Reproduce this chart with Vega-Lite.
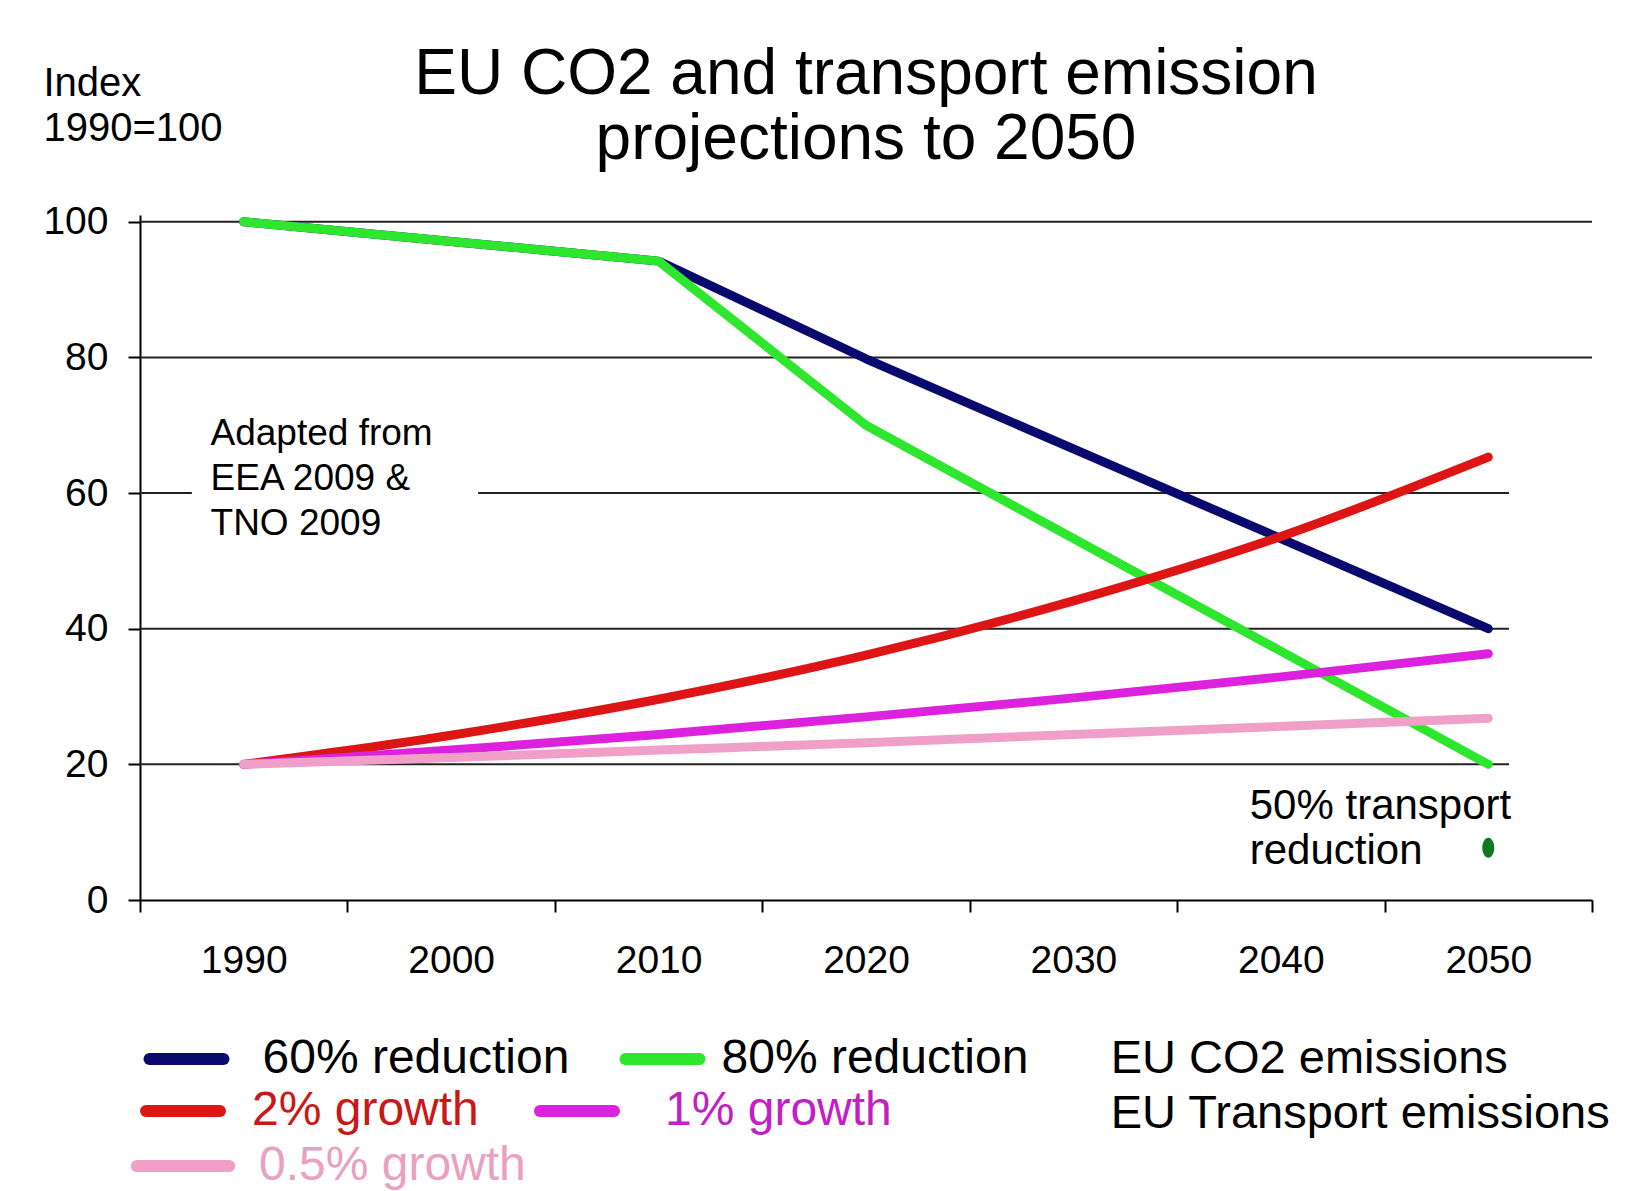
{
  "$schema": "https://vega.github.io/schema/vega-lite/v6.json",
  "width": 1452,
  "height": 685,
  "autosize": {"type": "none"},
  "padding": {"left": 140, "top": 215, "right": 38, "bottom": 291},
  "background": "white",
  "config": {"view": {"stroke": null}, "font": "Liberation Sans"},
  "title": {
    "text": ["EU CO2 and transport emission", "projections to 2050"],
    "fontSize": 64,
    "fontWeight": "normal",
    "font": "Liberation Sans",
    "lineHeight": 65,
    "anchor": "middle",
    "color": "black",
    "offset": -109
  },
  "layer": [
    {
      "data": {"values": [
        {"value": 100, "year": 1985, "year2": 2055},
        {"value": 80, "year": 1985, "year2": 2055},
        {"value": 60, "year": 1985, "year2": 1987.5},
        {"value": 60, "year": 2001.3, "year2": 2051},
        {"value": 40, "year": 1985, "year2": 2051},
        {"value": 20, "year": 1985, "year2": 2051}
      ]},
      "mark": {"type": "rule", "color": "#222222", "strokeWidth": 2},
      "encoding": {
        "x": {
          "field": "year", "type": "quantitative",
          "scale": {"domain": [1985, 2055], "nice": false, "zero": false},
          "axis": {
            "values": [1985, 1990, 1995, 2000, 2005, 2010, 2015, 2020, 2025, 2030, 2035, 2040, 2045, 2050, 2055],
            "format": "d",
            "labelExpr": "datum.value % 10 == 0 ? datum.label : ''",
            "title": null,
            "grid": false,
            "tickSize": 12,
            "tickWidth": 2,
            "tickColor": {"condition": {"test": "datum.value % 10 == 5", "value": "black"}, "value": "transparent"},
            "domainColor": "black",
            "domainWidth": 2,
            "labelFontSize": 39,
            "labelFont": "Liberation Sans",
            "labelColor": "black",
            "labelPadding": 29,
            "labelFlush": false,
            "labelOverlap": false
          }
        },
        "x2": {"field": "year2"},
        "y": {
          "field": "value", "type": "quantitative",
          "scale": {"domain": [0, 101], "nice": false, "zero": false},
          "axis": {
            "values": [0, 20, 40, 60, 80, 100],
            "title": ["Index", "1990=100"],
            "titleAngle": 0,
            "titleAlign": "left",
            "titleBaseline": "alphabetic",
            "titleX": -97,
            "titleY": -120,
            "titleFontSize": 40,
            "titleFontWeight": "normal",
            "titleFont": "Liberation Sans",
            "titleLineHeight": 45,
            "titleColor": "black",
            "grid": false,
            "tickSize": 12,
            "tickWidth": 2,
            "tickColor": "black",
            "domainColor": "black",
            "domainWidth": 2,
            "labelFontSize": 39,
            "labelFont": "Liberation Sans",
            "labelColor": "black",
            "labelPadding": 20
          }
        }
      }
    },
    {
      "data": {"values": [
        {"series": "60% reduction", "year": 1990, "value": 100},
        {"series": "60% reduction", "year": 2000, "value": 97.1},
        {"series": "60% reduction", "year": 2010, "value": 94.2},
        {"series": "60% reduction", "year": 2020, "value": 79.8},
        {"series": "60% reduction", "year": 2030, "value": 66.5},
        {"series": "60% reduction", "year": 2040, "value": 53.3},
        {"series": "60% reduction", "year": 2050, "value": 40},
        {"series": "80% reduction", "year": 1990, "value": 100},
        {"series": "80% reduction", "year": 2000, "value": 97.1},
        {"series": "80% reduction", "year": 2010, "value": 94.2},
        {"series": "80% reduction", "year": 2020, "value": 70},
        {"series": "80% reduction", "year": 2030, "value": 53.3},
        {"series": "80% reduction", "year": 2040, "value": 36.7},
        {"series": "80% reduction", "year": 2050, "value": 20}
      ]},
      "mark": {"type": "line", "strokeWidth": 9, "strokeCap": "round", "strokeJoin": "round", "interpolate": "linear"},
      "encoding": {
        "x": {"field": "year", "type": "quantitative"},
        "y": {"field": "value", "type": "quantitative"},
        "color": {
          "field": "series", "type": "nominal",
          "scale": {
            "domain": ["60% reduction", "80% reduction"],
            "range": ["#0a0a6e", "#2ee62e"]
          },
          "legend": {
            "orient": "none",
            "direction": "horizontal",
            "legendX": 15.5,
            "legendY": 813,
            "padding": 0,
            "columns": 2,
            "title": null,
            "symbolType": "M-1.48,0L1.48,0",
            "symbolSize": 2500,
            "symbolStrokeWidth": 12,
            "labelFontSize": 48,
            "labelFont": "Liberation Sans",
            "labelColor": "black",
            "labelOffset": 45,
            "labelLimit": 0,
            "columnPadding": 32,
            "rowPadding": -3,
            "encode": {
              "labels": {"update": {"dx": {"signal": "datum.label == '80% reduction' ? -17 : 0"}}},
              "symbols": {"update": {"strokeWidth": {"value": 12}, "strokeCap": {"value": "round"}}}
            }
          }
        }
      }
    },
    {
      "data": {"values": [
        {"series": "2% growth", "year": 1990, "value": 20},
        {"series": "2% growth", "year": 2000, "value": 24.3},
        {"series": "2% growth", "year": 2010, "value": 29.6},
        {"series": "2% growth", "year": 2020, "value": 36.1},
        {"series": "2% growth", "year": 2030, "value": 44.1},
        {"series": "2% growth", "year": 2040, "value": 53.6},
        {"series": "2% growth", "year": 2050, "value": 65.3},
        {"series": "1% growth", "year": 1990, "value": 20},
        {"series": "1% growth", "year": 2000, "value": 22.1},
        {"series": "1% growth", "year": 2010, "value": 24.4},
        {"series": "1% growth", "year": 2020, "value": 27.0},
        {"series": "1% growth", "year": 2030, "value": 29.8},
        {"series": "1% growth", "year": 2040, "value": 32.9},
        {"series": "1% growth", "year": 2050, "value": 36.3},
        {"series": "0.5% growth", "year": 1990, "value": 20},
        {"series": "0.5% growth", "year": 2000, "value": 21.0},
        {"series": "0.5% growth", "year": 2010, "value": 22.1},
        {"series": "0.5% growth", "year": 2020, "value": 23.2},
        {"series": "0.5% growth", "year": 2030, "value": 24.4},
        {"series": "0.5% growth", "year": 2040, "value": 25.6},
        {"series": "0.5% growth", "year": 2050, "value": 26.8}
      ]},
      "mark": {"type": "line", "strokeWidth": 9, "strokeCap": "round", "strokeJoin": "round", "interpolate": "monotone"},
      "encoding": {
        "x": {"field": "year", "type": "quantitative"},
        "y": {"field": "value", "type": "quantitative"},
        "stroke": {
          "field": "series", "type": "nominal",
          "scale": {
            "domain": ["2% growth", "1% growth", "0.5% growth"],
            "range": ["#dd1515", "#dd22dd", "#f0a0c8"]
          },
          "legend": {
            "orient": "none",
            "direction": "horizontal",
            "legendX": 12,
            "legendY": 865,
            "padding": 0,
            "columns": 2,
            "title": null,
            "symbolType": "M-1.48,0L1.48,0",
            "symbolSize": 2500,
            "symbolStrokeWidth": 12,
            "labelFontSize": 48,
            "labelFont": "Liberation Sans",
            "labelOffset": 45,
            "labelLimit": 0,
            "columnPadding": -10,
            "rowPadding": -3,
            "encode": {
              "labels": {"update": {
                "fill": {"signal": "datum.label == '2% growth' ? '#c81818' : datum.label == '1% growth' ? '#c41fc4' : '#eaa0c2'"},
                "dx": {"signal": "datum.label == '2% growth' ? -7 : datum.label == '1% growth' ? 12 : 0"}
              }},
              "symbols": {"update": {
                "strokeWidth": {"value": 12},
                "strokeCap": {"value": "round"},
                "shape": {"signal": "datum.label == '0.5% growth' ? 'M-1.85,0L1.85,0' : 'M-1.48,0L1.48,0'"}
              }}
            }
          }
        }
      }
    },
    {
      "data": {"values": [{"year": 2050, "value": 7.7}]},
      "mark": {"type": "point", "filled": true, "shape": "M0,-1A0.6,1 0 1,1 0,1A0.6,1 0 1,1 0,-1Z", "size": 400, "color": "#0d7a1f", "opacity": 1},
      "encoding": {
        "x": {"field": "year", "type": "quantitative"},
        "y": {"field": "value", "type": "quantitative"}
      }
    },
    {
      "data": {"values": [{"year": 1988.4, "value": 67.1, "label": "Adapted from\nEEA 2009 &\nTNO 2009"}]},
      "mark": {"type": "text", "align": "left", "baseline": "alphabetic", "fontSize": 37, "lineHeight": 45, "lineBreak": "\n", "font": "Liberation Sans", "color": "black"},
      "encoding": {
        "x": {"field": "year", "type": "quantitative"},
        "y": {"field": "value", "type": "quantitative"},
        "text": {"field": "label"}
      }
    },
    {
      "data": {"values": [{"year": 2038.5, "value": 11.9, "label": "50% transport\nreduction"}]},
      "mark": {"type": "text", "align": "left", "baseline": "alphabetic", "fontSize": 42, "lineHeight": 45, "lineBreak": "\n", "font": "Liberation Sans", "color": "black"},
      "encoding": {
        "x": {"field": "year", "type": "quantitative"},
        "y": {"field": "value", "type": "quantitative"},
        "text": {"field": "label"}
      }
    },
    {
      "data": {"values": [
        {"year": 2031.8, "value": -25.5, "label": "EU CO2 emissions"},
        {"year": 2031.8, "value": -33.6, "label": "EU Transport emissions"}
      ]},
      "mark": {"type": "text", "align": "left", "baseline": "alphabetic", "fontSize": 47, "font": "Liberation Sans", "color": "black"},
      "encoding": {
        "x": {"field": "year", "type": "quantitative"},
        "y": {"field": "value", "type": "quantitative"},
        "text": {"field": "label"}
      }
    }
  ]
}
